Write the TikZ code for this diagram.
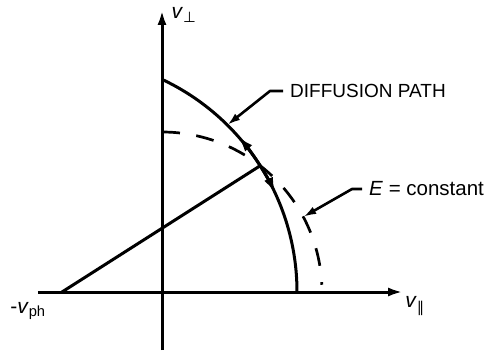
\documentclass[tikz,border=0pt]{standalone}
\usepackage{fontspec}
\setmainfont{Liberation Sans}
\newfontfamily\symfont{DejaVu Sans}
\usetikzlibrary{arrows.meta,calc}
\tikzset{
  ax/.style={-{Latex[length=15pt,width=9pt]},line width=3pt},
  pathln/.style={line width=3pt},
  econst/.style={line width=2.7pt,dash pattern=on 18pt off 16.5pt},
  leader/.style={-{Latex[length=13pt,width=8pt]},line width=2.6pt},
  midarr/.style={-{Latex[length=16pt,width=9.5pt]},line width=3pt},
  lab/.style={font=\fontsize{19}{22}\selectfont,inner sep=0pt},
  biglab/.style={font=\fontsize{20.5}{24}\selectfont,inner sep=0pt},
  vlab/.style={font=\fontsize{21}{24}\selectfont,inner sep=0pt},
}

\begin{document}
\begin{tikzpicture}[x=1pt,y=1pt,line join=round]
  \useasboundingbox (-162,-59) rectangle (324,292);
  \def\rd{235}\def\re{160}
  % --- axes ---
  \coordinate (O)  at (0,0);
  \coordinate (xl) at (-124,0);
  \coordinate (xr) at (241,0);
  \coordinate (yb) at (0,-58);
  \coordinate (yt) at (0,282);
  \draw[ax] (xl) -- (xr);
  \draw[ax] (yb) -- (yt);
  \node[vlab] (vpar)  at (253,-14) {\textit{v}\textsubscript{\symfont ∥}};
  \node[vlab] (vperp) at (22,277)  {\textit{v}\textsubscript{\symfont ⊥}};
  % --- phase velocity point and its circle (diffusion path) ---
  \coordinate (vph)  at (-100,0);
  \node[vlab] (vphl) at (-134,-19) {-\textit{v}\textsubscript{ph}};
  \coordinate (dtop) at ($(vph)+(64.8:\rd)$);
  \coordinate (ip)   at ($(vph)+(32.5:\rd)$);
  \draw[pathln] (dtop) arc[start angle=64.8,end angle=0,radius=\rd];
  \draw[pathln] (vph) -- (ip);
  \draw[midarr] (ip) arc[start angle=32.5,end angle=41.5,radius=\rd];
  \draw[midarr] (ip) arc[start angle=32.5,end angle=24.8,radius=\rd];
  % --- energy circle ---
  \coordinate (etop) at (0,\re);
  \draw[econst] (etop) arc[start angle=90,end angle=2.6,radius=\re];
  % --- labels with leaders ---
  \coordinate (dtip) at ($(vph)+(45.3:\rd)$);
  \coordinate (etip) at (28:\re);
  \node[lab,anchor=west] (dlab) at (128,201) {DIFFUSION PATH};
  \node[biglab,anchor=west] (elab) at (207,103) {\textit{E} = constant};
  \draw[leader] ([xshift=-7pt]dlab.west) -- ++(-13,0) -- (dtip);
  \draw[leader] ([xshift=-7pt]elab.west) -- ++(-10,0) -- (etip);
\end{tikzpicture}
\end{document}
